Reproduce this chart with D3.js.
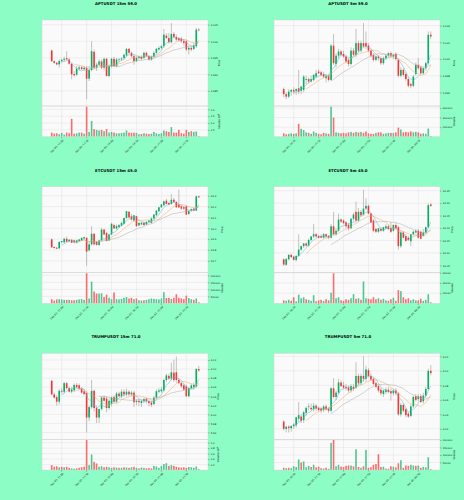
<!DOCTYPE html>
<html>
<head>
<meta charset="utf-8">
<script src="https://cdnjs.cloudflare.com/ajax/libs/d3/7.8.5/d3.min.js"></script>
<style>
html, body { margin: 0; padding: 0; background: #8cfdc4; }
svg { display: block; font-family: "DejaVu Sans", sans-serif; }
</style>
</head>
<body>
<div id="vis"></div>
<script>
// candles are [open, high, low, close], volumes in thousands
var titles = ["APTUSDT 15m 59.0", "APTUSDT 5m 59.0", "ETCUSDT 15m 45.0", "ETCUSDT 5m 45.0", "TRUMPUSDT 15m 71.0", "TRUMPUSDT 5m 71.0"];

var timeLabels15 = ["Dec 03, 11:00", "Dec 03, 13:30", "Dec 03, 16:00", "Dec 03, 18:30", "Dec 03, 21:00", "Dec 03, 23:30"];
var timeLabels5 = ["Dec 03, 20:20", "Dec 03, 21:10", "Dec 03, 22:00", "Dec 03, 22:50", "Dec 03, 23:40", "Dec 04, 00:30"];
var timeTickIndex = [4, 14, 24, 34, 44, 54];

var aptCandles15 = [
[1.9972,1.9975,1.9937,1.9940],[1.9940,1.9942,1.9931,1.9935],[1.9935,1.9937,1.9927,1.9930],[1.9930,1.9945,1.9920,1.9940],
[1.9940,1.9947,1.9935,1.9944],[1.9944,1.9953,1.9939,1.9947],[1.9949,1.9970,1.9943,1.9945],[1.9945,1.9949,1.9929,1.9932],
[1.9932,1.9935,1.9885,1.9900],[1.9901,1.9910,1.9893,1.9897],[1.9899,1.9925,1.9895,1.9917],[1.9917,1.9927,1.9911,1.9921],
[1.9921,1.9925,1.9913,1.9916],[1.9916,1.9925,1.9910,1.9920],[1.9920,1.9925,1.9825,1.9887],[1.9887,1.9925,1.9880,1.9913],
[1.9913,2.0000,1.9909,1.9970],[1.9968,1.9975,1.9915,1.9920],[1.9920,1.9935,1.9910,1.9929],[1.9929,1.9945,1.9925,1.9939],
[1.9939,1.9945,1.9915,1.9920],[1.9920,1.9950,1.9912,1.9947],[1.9947,1.9950,1.9893,1.9895],[1.9895,1.9930,1.9891,1.9925],
[1.9925,1.9950,1.9920,1.9947],[1.9947,1.9953,1.9923,1.9925],[1.9925,1.9950,1.9921,1.9945],[1.9943,1.9949,1.9937,1.9945],
[1.9945,1.9951,1.9941,1.9948],[1.9949,1.9963,1.9945,1.9959],[1.9957,1.9980,1.9953,1.9977],[1.9977,1.9980,1.9961,1.9965],
[1.9965,1.9969,1.9951,1.9955],[1.9955,1.9960,1.9929,1.9940],[1.9940,1.9955,1.9937,1.9950],[1.9949,1.9957,1.9945,1.9953],
[1.9953,1.9957,1.9943,1.9947],[1.9950,1.9969,1.9947,1.9965],[1.9965,1.9969,1.9953,1.9955],[1.9955,1.9959,1.9941,1.9945],
[1.9945,1.9957,1.9941,1.9953],[1.9953,1.9969,1.9950,1.9965],[1.9965,1.9980,1.9962,1.9977],[1.9975,1.9985,1.9971,1.9980],
[1.9980,1.9990,1.9975,1.9985],[1.9985,2.0037,1.9980,2.0020],[2.0017,2.0025,2.0007,2.0010],[2.0010,2.0025,1.9993,1.9997],
[1.9997,2.0055,1.9993,2.0022],[2.0022,2.0027,2.0009,2.0013],[2.0013,2.0020,2.0001,2.0005],[2.0009,2.0013,1.9999,2.0003],
[2.0007,2.0013,1.9995,2.0000],[2.0000,2.0007,1.9987,1.9995],[2.0000,2.0005,1.9970,1.9975],[1.9975,1.9985,1.9960,1.9980],
[1.9980,1.9985,1.9970,1.9975],[1.9977,1.9995,1.9973,1.9987],[1.9985,2.0040,1.9980,2.0035],[2.0035,2.0040,2.0030,2.0033]];
var aptVol15 = [300,220,250,180,280,150,300,250,1300,220,250,300,300,220,2200,350,1150,550,500,450,500,400,550,300,350,300,250,250,280,300,
450,300,280,300,280,180,200,250,220,200,220,350,250,200,250,450,400,350,700,300,300,500,250,220,500,350,400,350,380,50];
var aptPriceTicks15 = [1.985, 1.990, 1.995, 2.000, 2.005];
var aptVolTicks15 = [500000, 1000000, 1500000, 2000000];

var aptCandles5 = [
[1.9964,1.9966,1.9954,1.9958],[1.9958,1.9960,1.9952,1.9955],[1.9955,1.9964,1.9953,1.9961],[1.9961,1.9964,1.9956,1.9963],
[1.9963,1.9966,1.9958,1.9961],[1.9962,1.9965,1.9957,1.9964],[1.9965,1.9987,1.9958,1.9961],[1.9962,1.9968,1.9958,1.9967],
[1.9963,1.9981,1.9960,1.9979],[1.9975,1.9980,1.9970,1.9976],[1.9976,1.9978,1.9971,1.9973],[1.9973,1.9980,1.9972,1.9976],
[1.9975,1.9982,1.9973,1.9981],[1.9979,1.9987,1.9977,1.9983],[1.9985,1.9988,1.9982,1.9983],[1.9984,1.9986,1.9979,1.9981],
[1.9982,1.9985,1.9977,1.9979],[1.9977,1.9982,1.9972,1.9980],[1.9980,1.9982,1.9973,1.9975],[1.9975,2.0018,1.9974,2.0016],
[2.0016,2.0030,1.9993,1.9995],[1.9994,2.0007,1.9990,2.0004],[2.0004,2.0012,2.0001,2.0009],[2.0009,2.0011,2.0003,2.0005],
[2.0006,2.0010,2.0001,2.0003],[2.0003,2.0005,1.9995,1.9997],[1.9999,2.0001,1.9991,1.9994],[1.9994,2.0014,1.9992,2.0010],
[2.0010,2.0013,2.0003,2.0005],[2.0005,2.0036,2.0002,2.0019],[2.0019,2.0022,2.0008,2.0010],[2.0010,2.0022,2.0008,2.0019],
[2.0019,2.0043,2.0014,2.0015],[2.0019,2.0033,2.0012,2.0015],[2.0016,2.0019,2.0008,2.0010],[2.0010,2.0012,2.0002,2.0004],
[2.0005,2.0007,1.9997,1.9999],[1.9999,2.0004,1.9997,2.0003],[2.0003,2.0005,1.9998,2.0001],[2.0001,2.0003,1.9993,1.9995],
[1.9995,2.0003,1.9993,2.0001],[2.0001,2.0006,1.9999,2.0004],[2.0004,2.0008,2.0002,2.0007],[2.0007,2.0009,2.0002,2.0004],
[2.0003,2.0006,2.0000,2.0005],[2.0006,2.0008,1.9998,2.0000],[1.9999,2.0001,1.9978,1.9980],[1.9980,1.9990,1.9978,1.9987],
[1.9987,1.9989,1.9979,1.9981],[1.9982,1.9984,1.9974,1.9976],[1.9976,1.9978,1.9966,1.9968],[1.9970,1.9972,1.9965,1.9968],
[1.9968,1.9981,1.9966,1.9979],[1.9982,1.9996,1.9980,1.9993],[1.9993,2.0001,1.9987,1.9989],[1.9990,1.9992,1.9982,1.9983],
[1.9983,1.9990,1.9981,1.9989],[1.9989,1.9997,1.9986,1.9995],[1.9995,2.0033,1.9993,2.0029],[2.0029,2.0033,2.0024,2.0027]];
var aptVol5 = [70,50,60,70,60,70,270,165,140,90,80,60,110,80,60,50,80,70,60,630,400,90,80,70,80,70,90,100,80,100,
90,100,80,110,70,60,60,80,90,90,60,70,80,80,80,90,190,150,90,100,90,110,90,100,90,60,70,60,170,15];
var aptPriceTicks5 = [1.996, 1.998, 2.000, 2.002, 2.004];
var aptVolTicks5 = [200000, 400000, 600000];

var etcCandles15 = [
[13.898,13.905,13.818,13.824],[13.827,13.833,13.812,13.818],[13.821,13.827,13.808,13.812],[13.815,13.882,13.810,13.873],
[13.873,13.882,13.860,13.882],[13.870,13.912,13.865,13.903],[13.903,13.924,13.870,13.876],[13.879,13.900,13.870,13.894],
[13.894,13.900,13.864,13.867],[13.888,13.894,13.864,13.870],[13.867,13.894,13.860,13.888],[13.882,13.900,13.876,13.897],
[13.888,13.912,13.882,13.912],[13.906,13.924,13.900,13.918],[13.912,13.918,13.654,13.785],[13.797,13.870,13.785,13.852],
[13.852,14.020,13.840,13.949],[13.949,13.955,13.840,13.852],[13.876,13.882,13.840,13.846],[13.846,13.894,13.838,13.888],
[13.888,14.004,13.882,13.988],[13.988,13.994,13.937,13.943],[13.958,13.962,13.880,13.882],[13.888,13.949,13.882,13.943],
[13.943,14.050,13.937,14.041],[14.029,14.041,13.994,13.998],[13.998,14.035,13.988,14.020],[14.010,14.038,14.004,14.029],
[14.023,14.060,14.017,14.050],[14.041,14.100,14.035,14.094],[14.094,14.160,14.088,14.157],[14.151,14.160,14.094,14.100],
[14.110,14.130,14.070,14.080],[14.071,14.120,14.060,14.120],[14.111,14.115,14.010,14.020],[14.026,14.055,14.020,14.050],
[14.035,14.060,14.029,14.050],[14.050,14.060,14.026,14.029],[14.035,14.065,14.030,14.059],[14.059,14.080,14.050,14.071],
[14.050,14.100,14.045,14.090],[14.090,14.130,14.080,14.126],[14.120,14.165,14.110,14.163],[14.157,14.195,14.150,14.193],
[14.193,14.225,14.187,14.218],[14.212,14.255,14.205,14.248],[14.254,14.270,14.220,14.224],[14.233,14.245,14.212,14.218],
[14.224,14.315,14.218,14.263],[14.263,14.280,14.236,14.242],[14.242,14.250,14.190,14.193],[14.218,14.355,14.187,14.193],
[14.202,14.210,14.170,14.181],[14.193,14.200,14.170,14.181],[14.202,14.212,14.120,14.126],[14.132,14.160,14.120,14.157],
[14.163,14.180,14.150,14.178],[14.181,14.190,14.160,14.163],[14.163,14.300,14.157,14.294],[14.294,14.300,14.280,14.285]];
var etcVol15 = [30,20,28,30,28,25,25,25,22,22,25,28,30,25,215,35,155,85,70,70,72,45,62,40,30,78,30,28,32,40,
45,35,40,30,35,22,20,22,25,30,35,32,30,28,35,80,38,40,32,40,65,40,35,30,55,38,30,25,35,8];
var etcPriceTicks15 = [13.7, 13.8, 13.9, 14.0, 14.1, 14.2, 14.3];
var etcVolTicks15 = [50000, 100000, 150000, 200000];

var etcCandles5 = [
[14.074,14.078,14.048,14.053],[14.052,14.079,14.048,14.076],[14.074,14.095,14.070,14.092],[14.092,14.097,14.080,14.083],
[14.085,14.088,14.068,14.072],[14.072,14.090,14.065,14.088],[14.088,14.175,14.084,14.113],[14.113,14.130,14.108,14.127],
[14.127,14.140,14.120,14.138],[14.138,14.142,14.125,14.129],[14.129,14.158,14.125,14.152],[14.152,14.168,14.148,14.166],
[14.166,14.216,14.160,14.175],[14.175,14.180,14.162,14.166],[14.168,14.172,14.158,14.161],[14.168,14.175,14.160,14.161],
[14.161,14.180,14.158,14.175],[14.175,14.178,14.160,14.166],[14.168,14.172,14.155,14.161],[14.161,14.216,14.158,14.207],
[14.207,14.265,14.170,14.175],[14.175,14.200,14.168,14.189],[14.189,14.258,14.185,14.234],[14.234,14.240,14.220,14.226],
[14.230,14.235,14.215,14.220],[14.223,14.228,14.200,14.207],[14.213,14.220,14.190,14.199],[14.199,14.240,14.195,14.237],
[14.237,14.260,14.230,14.254],[14.265,14.306,14.225,14.230],[14.230,14.280,14.225,14.265],[14.265,14.272,14.245,14.251],
[14.254,14.354,14.250,14.278],[14.278,14.320,14.272,14.289],[14.289,14.295,14.255,14.258],[14.258,14.262,14.220,14.223],
[14.230,14.235,14.185,14.189],[14.196,14.200,14.180,14.185],[14.185,14.200,14.180,14.199],[14.196,14.205,14.185,14.189],
[14.189,14.205,14.185,14.203],[14.199,14.215,14.195,14.207],[14.207,14.215,14.192,14.196],[14.199,14.223,14.180,14.185],
[14.189,14.215,14.185,14.212],[14.212,14.220,14.196,14.199],[14.203,14.210,14.113,14.127],[14.127,14.190,14.120,14.182],
[14.182,14.188,14.158,14.161],[14.168,14.175,14.145,14.148],[14.161,14.168,14.148,14.152],[14.147,14.175,14.127,14.175],
[14.175,14.190,14.170,14.185],[14.182,14.196,14.178,14.189],[14.189,14.196,14.158,14.161],[14.185,14.190,14.155,14.157],
[14.168,14.196,14.165,14.182],[14.182,14.205,14.178,14.203],[14.203,14.299,14.199,14.292],[14.295,14.299,14.285,14.289]];
var etcVol5 = [6,5,7,5,12,4,17,10,12,8,7,5,16,4,6,7,5,8,6,21,59,10,12,6,5,8,7,10,18,9,
10,7,43,10,9,8,12,8,10,7,9,6,5,8,11,5,26,24,12,8,10,6,8,6,6,9,5,7,18,2];
var etcPriceTicks5 = [14.05, 14.10, 14.15, 14.20, 14.25, 14.30, 14.35];
var etcVolTicks5 = [20000, 40000, 60000];

var trumpCandles15 = [
[6.074,6.076,6.042,6.044],[6.044,6.048,6.035,6.037],[6.038,6.042,6.019,6.028],[6.028,6.056,6.022,6.052],
[6.052,6.058,6.046,6.050],[6.050,6.072,6.046,6.069],[6.069,6.072,6.055,6.058],[6.058,6.062,6.048,6.050],
[6.050,6.060,6.046,6.055],[6.053,6.068,6.050,6.065],[6.065,6.069,6.057,6.060],[6.064,6.068,6.055,6.057],
[6.057,6.060,6.046,6.048],[6.051,6.055,6.042,6.045],[6.047,6.051,5.960,5.993],[5.993,6.020,5.985,6.016],
[6.016,6.076,6.012,6.052],[6.052,6.055,6.006,6.014],[6.014,6.020,5.981,5.993],[5.993,6.012,5.981,6.012],
[6.012,6.040,6.008,6.037],[6.037,6.042,6.028,6.030],[6.035,6.040,6.005,6.014],[6.014,6.035,6.010,6.030],
[6.023,6.040,6.018,6.037],[6.038,6.042,6.025,6.028],[6.028,6.050,6.024,6.046],[6.046,6.050,6.038,6.040],
[6.040,6.055,6.036,6.050],[6.050,6.055,6.040,6.044],[6.044,6.057,6.040,6.050],[6.050,6.053,6.040,6.044],
[6.044,6.052,6.040,6.048],[6.048,6.052,6.016,6.027],[6.027,6.033,6.020,6.030],[6.030,6.034,6.018,6.027],
[6.025,6.032,6.016,6.029],[6.029,6.036,6.025,6.034],[6.034,6.037,6.024,6.029],[6.029,6.032,6.018,6.025],
[6.026,6.030,6.016,6.021],[6.023,6.040,6.020,6.037],[6.037,6.055,6.033,6.051],[6.050,6.058,6.046,6.053],
[6.051,6.060,6.048,6.055],[6.053,6.078,6.050,6.076],[6.076,6.090,6.072,6.086],[6.085,6.090,6.076,6.079],
[6.079,6.114,6.075,6.093],[6.092,6.121,6.072,6.076],[6.093,6.128,6.070,6.076],[6.076,6.080,6.066,6.069],
[6.069,6.072,6.058,6.062],[6.064,6.068,6.052,6.055],[6.062,6.066,6.038,6.040],[6.040,6.060,6.037,6.058],
[6.058,6.068,6.055,6.064],[6.060,6.070,6.055,6.065],[6.062,6.102,6.058,6.100],[6.100,6.107,6.094,6.097]];
var trumpVol15 = [180,120,140,100,120,100,120,80,60,50,60,80,100,120,1100,180,570,300,240,120,140,100,120,100,80,100,90,80,80,100,
90,80,100,120,80,60,90,80,60,70,60,150,130,80,150,220,250,150,180,150,120,100,90,100,80,110,100,80,130,30];
var trumpPriceTicks15 = [5.96, 5.98, 6.00, 6.02, 6.04, 6.06, 6.08, 6.10, 6.12];
var trumpVolTicks15 = [200000, 400000, 600000, 800000, 1000000];

var trumpCandles5 = [
[6.030,6.032,6.018,6.020],[6.020,6.024,6.015,6.023],[6.023,6.025,6.015,6.021],[6.021,6.025,6.016,6.024],
[6.024,6.028,6.020,6.026],[6.025,6.037,6.022,6.036],[6.034,6.057,6.030,6.039],[6.037,6.040,6.028,6.031],
[6.032,6.045,6.028,6.043],[6.042,6.051,6.038,6.049],[6.050,6.055,6.046,6.051],[6.049,6.055,6.045,6.047],
[6.047,6.056,6.044,6.052],[6.052,6.054,6.045,6.048],[6.049,6.051,6.044,6.046],[6.048,6.050,6.042,6.045],
[6.046,6.053,6.043,6.051],[6.051,6.054,6.045,6.047],[6.048,6.050,6.042,6.045],[6.045,6.078,6.043,6.076],
[6.076,6.090,6.062,6.064],[6.064,6.073,6.060,6.070],[6.070,6.089,6.068,6.084],[6.084,6.087,6.078,6.079],
[6.080,6.085,6.075,6.077],[6.078,6.082,6.073,6.076],[6.077,6.080,6.070,6.073],[6.073,6.082,6.070,6.079],
[6.078,6.082,6.072,6.075],[6.077,6.112,6.075,6.093],[6.093,6.096,6.080,6.083],[6.083,6.096,6.080,6.093],
[6.093,6.120,6.085,6.089],[6.089,6.107,6.085,6.102],[6.101,6.104,6.091,6.093],[6.093,6.096,6.086,6.088],
[6.089,6.091,6.080,6.082],[6.083,6.085,6.076,6.078],[6.079,6.081,6.070,6.073],[6.074,6.077,6.066,6.069],
[6.068,6.074,6.064,6.073],[6.071,6.077,6.068,6.074],[6.074,6.078,6.069,6.071],[6.072,6.076,6.059,6.069],
[6.069,6.075,6.066,6.073],[6.073,6.076,6.066,6.069],[6.069,6.071,6.038,6.040],[6.040,6.056,6.037,6.053],
[6.053,6.055,6.043,6.045],[6.047,6.049,6.036,6.039],[6.041,6.043,6.035,6.037],[6.038,6.054,6.036,6.051],
[6.051,6.066,6.049,6.064],[6.065,6.068,6.058,6.060],[6.061,6.068,6.058,6.065],[6.065,6.068,6.056,6.057],
[6.058,6.070,6.055,6.066],[6.066,6.078,6.063,6.075],[6.075,6.103,6.073,6.100],[6.100,6.108,6.094,6.097]];
var trumpVol5 = [15,12,15,12,25,20,70,50,57,18,28,20,35,18,22,12,10,15,8,180,200,25,35,22,20,28,30,30,25,138,
20,15,25,134,15,18,35,40,105,20,22,10,8,25,22,18,45,65,15,30,28,35,30,28,30,15,20,18,85,5];
var trumpPriceTicks5 = [6.02, 6.04, 6.06, 6.08, 6.10, 6.12];
var trumpVolTicks5 = [50000, 100000, 150000, 200000];

var maPeriods = [5, 10, 20];

var width = 464,
	height = 500,
	cellW = 232,
	cellH = height / 3;

var plotL = 42, plotR = 208, priceTop = 20, split = 106, volBottom = 136.7;

var upColor = '#00b060', downColor = '#fe3032',
	volUpColor = '#4dc790', volDownColor = '#fd6b6c',
	wickColor = '#8a8a8a', gridColor = '#e2e2e2',
	maColors = ['#5ab6d8', '#f4a65c', '#a8a8a8'];

var panels = [
	{title: titles[0], candles: aptCandles15, vol: aptVol15, priceTicks: aptPriceTicks15, dec: 3, volTicks: aptVolTicks15, volExp: 6, times: timeLabels15},
	{title: titles[1], candles: aptCandles5, vol: aptVol5, priceTicks: aptPriceTicks5, dec: 3, volTicks: aptVolTicks5, volExp: 0, times: timeLabels5},
	{title: titles[2], candles: etcCandles15, vol: etcVol15, priceTicks: etcPriceTicks15, dec: 1, volTicks: etcVolTicks15, volExp: 0, times: timeLabels15},
	{title: titles[3], candles: etcCandles5, vol: etcVol5, priceTicks: etcPriceTicks5, dec: 2, volTicks: etcVolTicks5, volExp: 0, times: timeLabels5},
	{title: titles[4], candles: trumpCandles15, vol: trumpVol15, priceTicks: trumpPriceTicks15, dec: 2, volTicks: trumpVolTicks15, volExp: 6, times: timeLabels15},
	{title: titles[5], candles: trumpCandles5, vol: trumpVol5, priceTicks: trumpPriceTicks5, dec: 2, volTicks: trumpVolTicks5, volExp: 0, times: timeLabels5}
];

var svg = d3.select('#vis')
	.append('svg')
	.attr('width', width)
	.attr('height', height);

svg.append('rect')
	.attr('width', width)
	.attr('height', height)
	.attr('fill', '#8cfdc4');

function drawPanel(g, p) {
	var n = p.candles.length;
	var vols = p.vol.map(function(v) { return v * 1000; });

	var x = d3.scaleLinear().domain([-3.9, n + 2.7]).range([plotL, plotR]);
	var lo = d3.min(p.candles, function(d) { return d[2]; }),
		hi = d3.max(p.candles, function(d) { return d[1]; }),
		r = hi - lo;
	var y = d3.scaleLinear().domain([lo - r * 0.09, hi + r * 0.04]).range([split, priceTop]);
	var yv = d3.scaleLinear().domain([0, d3.max(vols) * 1.02]).range([volBottom, split]);
	var bw = (x(1) - x(0)) * 0.64;

	g.append('text')
		.attr('x', cellW / 2)
		.attr('y', 5)
		.attr('text-anchor', 'middle')
		.style('font-size', '3.9px')
		.style('font-weight', 'bold')
		.text(p.title);

	g.append('rect')
		.attr('x', plotL).attr('y', priceTop)
		.attr('width', plotR - plotL).attr('height', volBottom - priceTop)
		.attr('fill', '#fafafa');

	// grid
	var grid = g.append('g').attr('stroke', gridColor).attr('stroke-width', 0.5);
	timeTickIndex.forEach(function(i) {
		grid.append('line').attr('x1', x(i)).attr('x2', x(i)).attr('y1', priceTop).attr('y2', volBottom);
	});
	p.priceTicks.forEach(function(t) {
		grid.append('line').attr('x1', plotL).attr('x2', plotR).attr('y1', y(t)).attr('y2', y(t));
	});
	p.volTicks.forEach(function(t) {
		grid.append('line').attr('x1', plotL).attr('x2', plotR).attr('y1', yv(t)).attr('y2', yv(t));
	});

	// wicks and bodies
	g.append('g').selectAll('line')
		.data(p.candles)
		.enter()
		.append('line')
		.attr('x1', function(d, i) { return x(i); })
		.attr('x2', function(d, i) { return x(i); })
		.attr('y1', function(d) { return y(d[1]); })
		.attr('y2', function(d) { return y(d[2]); })
		.attr('stroke', wickColor)
		.attr('stroke-width', 0.5);

	g.append('g').selectAll('rect')
		.data(p.candles)
		.enter()
		.append('rect')
		.attr('x', function(d, i) { return x(i) - bw / 2; })
		.attr('width', bw)
		.attr('y', function(d) { return y(Math.max(d[0], d[3])); })
		.attr('height', function(d) { return Math.max(0.4, Math.abs(y(d[0]) - y(d[3]))); })
		.attr('fill', function(d) { return d[3] >= d[0] ? upColor : downColor; });

	// moving averages
	maPeriods.forEach(function(per, k) {
		var ma = p.candles.map(function(d, i) {
			if (i < per - 1) return null;
			return d3.mean(p.candles.slice(i - per + 1, i + 1), function(c) { return c[3]; });
		});
		var line = d3.line()
			.defined(function(d) { return d !== null; })
			.x(function(d, i) { return x(i); })
			.y(function(d) { return y(d); });
		g.append('path')
			.attr('d', line(ma))
			.attr('fill', 'none')
			.attr('stroke', maColors[k])
			.attr('stroke-width', 0.5);
	});

	// volume
	g.append('g').selectAll('rect')
		.data(vols)
		.enter()
		.append('rect')
		.attr('x', function(d, i) { return x(i) - bw / 2; })
		.attr('width', bw)
		.attr('y', function(d) { return yv(d); })
		.attr('height', function(d) { return volBottom - yv(d); })
		.attr('fill', function(d, i) { var c = p.candles[i]; return c[3] >= c[0] ? volUpColor : volDownColor; });

	// frames
	g.append('rect')
		.attr('x', plotL).attr('y', priceTop)
		.attr('width', plotR - plotL).attr('height', split - priceTop)
		.attr('fill', 'none').attr('stroke', '#d4d4d4').attr('stroke-width', 0.5);
	g.append('rect')
		.attr('x', plotL).attr('y', split)
		.attr('width', plotR - plotL).attr('height', volBottom - split)
		.attr('fill', 'none').attr('stroke', '#d4d4d4').attr('stroke-width', 0.5);

	// right axes
	var priceAxis = g.append('g')
		.attr('transform', 'translate(' + plotR + ',0)')
		.call(d3.axisRight(y).tickValues(p.priceTicks).tickSize(1.5).tickPadding(1.2)
			.tickFormat(d3.format('.' + p.dec + 'f')));
	var volAxis = g.append('g')
		.attr('transform', 'translate(' + plotR + ',0)')
		.call(d3.axisRight(yv).tickValues(p.volTicks).tickSize(1.5).tickPadding(1.2)
			.tickFormat(function(d) { return p.volExp ? (d / Math.pow(10, p.volExp)).toFixed(1) : d3.format('d')(d); }));

	[priceAxis, volAxis].forEach(function(ax) {
		ax.select('.domain').remove();
		ax.selectAll('line').attr('stroke', '#555').attr('stroke-width', 0.4);
		ax.selectAll('text').style('font-size', '2.5px').attr('fill', '#222').attr('font-family', 'DejaVu Sans');
	});

	var maxW = 0;
	g.selectAll('.tick text').each(function() { maxW = Math.max(maxW, this.getComputedTextLength()); });
	var labelX = plotR + 3 + maxW + 2.2;

	g.append('text')
		.attr('transform', 'translate(' + labelX + ',' + (priceTop + split) / 2 + ') rotate(-90)')
		.attr('text-anchor', 'middle')
		.style('font-size', '2.6px')
		.text('Price');

	var vl = g.append('text')
		.attr('transform', 'translate(' + labelX + ',' + (split + volBottom) / 2 + ') rotate(-90)')
		.attr('text-anchor', 'middle')
		.style('font-size', '2.6px')
		.text('Volume');
	if (p.volExp) {
		vl.append('tspan').text('  10');
		vl.append('tspan').attr('dy', -1).style('font-size', '1.8px').text(p.volExp);
	}

	// time ticks
	timeTickIndex.forEach(function(i, k) {
		g.append('line')
			.attr('x1', x(i)).attr('x2', x(i))
			.attr('y1', volBottom).attr('y2', volBottom + 1.5)
			.attr('stroke', '#555').attr('stroke-width', 0.4);
		g.append('text')
			.attr('transform', 'translate(' + (x(i) + 0.8) + ',' + (volBottom + 2.6) + ') rotate(-45)')
			.attr('text-anchor', 'end')
			.attr('dy', '0.7em')
			.style('font-size', '2.5px')
			.attr('fill', '#222')
			.text(p.times[k]);
	});
}

panels.forEach(function(p, k) {
	var g = svg.append('g')
		.attr('transform', 'translate(' + (k % 2) * cellW + ',' + Math.floor(k / 2) * cellH + ')');
	drawPanel(g, p);
});
</script>
</body>
</html>
